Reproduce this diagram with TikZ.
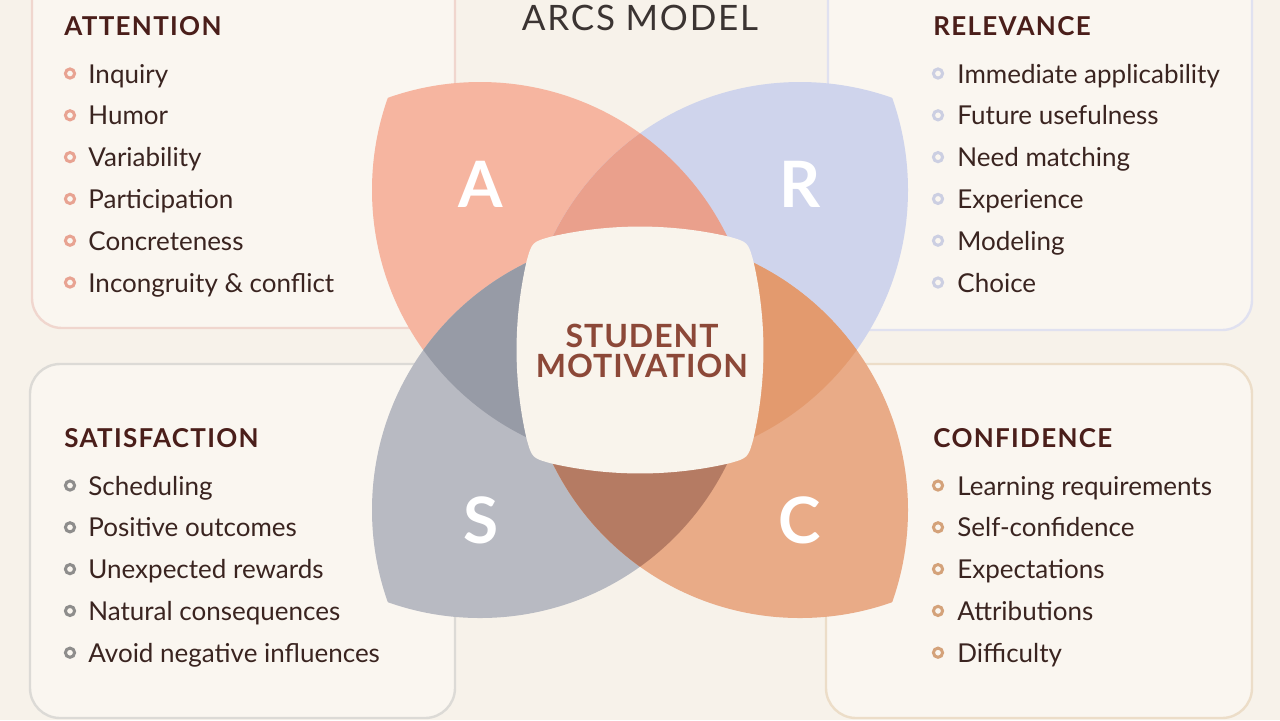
\documentclass[tikz,border=0pt]{standalone}
\usepackage{fontspec}
\setmainfont{Lato}
\definecolor{bg}{HTML}{F7F2EA}
\definecolor{boxfill}{HTML}{FAF6F0}
\definecolor{colA}{HTML}{F6B5A0}
\definecolor{colR}{HTML}{CFD4EC}
\definecolor{colS}{HTML}{B8BAC2}
\definecolor{colC}{HTML}{E9AB87}
\definecolor{colAR}{HTML}{EAA08C}
\definecolor{colRC}{HTML}{E39A6E}
\definecolor{colSC}{HTML}{B57B63}
\definecolor{colAS}{HTML}{979BA6}
\definecolor{sqfill}{HTML}{F9F4EC}
\definecolor{itemtext}{HTML}{3A2420}
\definecolor{headtext}{HTML}{4A1E1A}
\definecolor{titletext}{HTML}{3B3432}
\definecolor{centertext}{HTML}{8C4838}
\definecolor{bordA}{HTML}{F0D6CE}
\definecolor{bordR}{HTML}{E0E1F0}
\definecolor{bordS}{HTML}{DCDAD6}
\definecolor{bordC}{HTML}{ECDDC8}
\definecolor{bulA}{HTML}{E8A392}
\definecolor{bulR}{HTML}{CCCFE2}
\definecolor{bulS}{HTML}{8E8D8C}
\definecolor{bulC}{HTML}{D4A27A}
\newcommand{\petalrad}{137.5pt}
\begin{document}
\begin{tikzpicture}[x=0.5pt,y=-0.5pt,
  panel/.style={rounded corners=15pt, fill=boxfill, line width=1.2pt},
  headtxt/.style={anchor=base west, inner sep=0pt, text=headtext, font=\fontsize{13}{15}\selectfont\bfseries\addfontfeatures{LetterSpace=5}},
  itemtxt/.style={anchor=base west, inner sep=0pt, text=itemtext, font=\fontsize{13}{15}\selectfont},
  dot/.style={circle, inner sep=0pt, minimum size=4.6pt, line width=1.5pt, fill=boxfill},
  letter/.style={text=white, inner sep=0pt, font=\fontsize{32}{36}\selectfont\bfseries},
  coretxt/.style={anchor=base, inner sep=0pt, text=centertext, font=\fontsize{16}{18}\selectfont\bfseries\addfontfeatures{LetterSpace=3}},
]
\useasboundingbox (0,0) rectangle (1280,720);
\fill[bg] (0,0) rectangle (1280,720);

% panels
\draw[panel, draw=bordA] (32,-40) rectangle (455,328);
\draw[panel, draw=bordR] (828,-40) rectangle (1252,330);
\draw[panel, draw=bordS] (30,364) rectangle (455,718);
\draw[panel, draw=bordC] (826,364) rectangle (1252,718);

% title
\node[anchor=base, inner sep=0pt, text=titletext, font=\fontsize{17.5}{20}\selectfont\addfontfeatures{LetterSpace=5}] (title) at (640,30) {ARCS MODEL};

% petals
\begin{scope}\clip (480,357) circle[radius=\petalrad]; \fill[colA] (647,190) circle[radius=\petalrad];\end{scope}
\begin{scope}\clip (800,357) circle[radius=\petalrad]; \fill[colR] (633,190) circle[radius=\petalrad];\end{scope}
\begin{scope}\clip (480,343) circle[radius=\petalrad]; \fill[colS] (647,510) circle[radius=\petalrad];\end{scope}
\begin{scope}\clip (800,343) circle[radius=\petalrad]; \fill[colC] (633,510) circle[radius=\petalrad];\end{scope}
% overlaps
\begin{scope}
  \clip (480,357) circle[radius=\petalrad]; \clip (647,190) circle[radius=\petalrad];
  \clip (800,357) circle[radius=\petalrad]; \fill[colAR] (633,190) circle[radius=\petalrad];
\end{scope}
\begin{scope}
  \clip (800,357) circle[radius=\petalrad]; \clip (633,190) circle[radius=\petalrad];
  \clip (800,343) circle[radius=\petalrad]; \fill[colRC] (633,510) circle[radius=\petalrad];
\end{scope}
\begin{scope}
  \clip (800,343) circle[radius=\petalrad]; \clip (633,510) circle[radius=\petalrad];
  \clip (480,343) circle[radius=\petalrad]; \fill[colSC] (647,510) circle[radius=\petalrad];
\end{scope}
\begin{scope}
  \clip (480,343) circle[radius=\petalrad]; \clip (647,510) circle[radius=\petalrad];
  \clip (480,357) circle[radius=\petalrad]; \fill[colAS] (647,190) circle[radius=\petalrad];
\end{scope}

% centre square
\begin{scope}[shift={(640,350)}]
\fill[sqfill] (-88.8,-113.4) .. controls (-30.3,-126.8) and (30.3,-126.8) .. (88.8,-113.4)
  .. controls (108,-108) .. (113.4,-88.8)
  .. controls (126.8,-30.3) and (126.8,30.3) .. (113.4,88.8)
  .. controls (108,108) .. (88.8,113.4)
  .. controls (30.3,126.8) and (-30.3,126.8) .. (-88.8,113.4)
  .. controls (-108,108) .. (-113.4,88.8)
  .. controls (-126.8,30.3) and (-126.8,-30.3) .. (-113.4,-88.8)
  .. controls (-108,-108) .. (-88.8,-113.4) -- cycle;
\end{scope}
\node[coretxt] (core1) at (642,347) {STUDENT};
\node[coretxt] (core2) at (642,377) {MOTIVATION};

% petal letters
\node[letter] (lA) at (481,184) {A};
\node[letter] (lR) at (800,184) {R};
\node[letter] (lS) at (481,520) {S};
\node[letter] (lC) at (800,520) {C};

% headings
\node[headtxt] (hA) at (64,35) {ATTENTION};
\node[headtxt] (hR) at (933,35) {RELEVANCE};
\node[headtxt] (hS) at (64,447) {SATISFACTION};
\node[headtxt] (hC) at (933,447) {CONFIDENCE};

% items
\foreach \t [count=\i] in {Inquiry, Humor, Variability, Participation, Concreteness, Incongruity \& conflict} {
  \node[itemtxt] (ta\i) at (88,{83+41.8*(\i-1)}) {\t};
  \node[dot, draw=bulA] (da\i) at (70,{83+41.8*(\i-1)-9.5}) {};
}
\foreach \t [count=\i] in {Immediate applicability, Future usefulness, Need matching, Experience, Modeling, Choice} {
  \node[itemtxt] (tr\i) at (957,{83+41.8*(\i-1)}) {\t};
  \node[dot, draw=bulR] (dr\i) at (938,{83+41.8*(\i-1)-9.5}) {};
}
\foreach \t [count=\i] in {Scheduling, Positive outcomes, Unexpected rewards, Natural consequences, Avoid negative influences} {
  \node[itemtxt] (ts\i) at (88,{495+41.8*(\i-1)}) {\t};
  \node[dot, draw=bulS] (ds\i) at (70,{495+41.8*(\i-1)-9.5}) {};
}
\foreach \t [count=\i] in {Learning requirements, Self-confidence, Expectations, Attributions, Difficulty} {
  \node[itemtxt] (tc\i) at (957,{495+41.8*(\i-1)}) {\t};
  \node[dot, draw=bulC] (dc\i) at (938,{495+41.8*(\i-1)-9.5}) {};
}
\end{tikzpicture}
\end{document}
